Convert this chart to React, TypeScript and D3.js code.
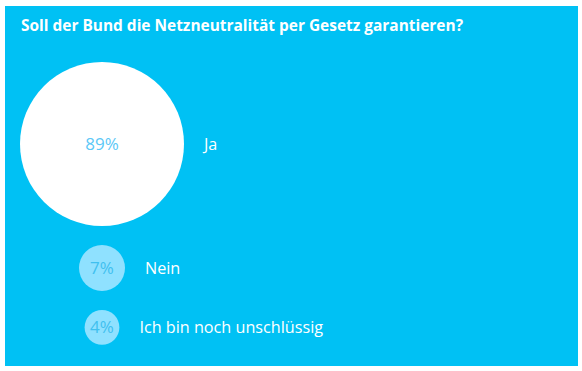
import React from "react";
import * as d3 from "d3";

const title = "Soll der Bund die Netzneutralität per Gesetz garantieren?";
const categories = ["Ja", "Nein", "Ich bin noch unschlüssig"];
const values = [89, 7, 4];
const valueLabels = ["89%", "7%", "4%"];

const W = 582;
const H = 371;
const BG = "#00c1f4";
const FONT = "'Open Sans', 'DejaVu Sans', sans-serif";

export default function App() {
  const r = d3.scaleSqrt().domain([0, 89]).range([0, 82]);
  const cx = 102;
  const top = 62;
  const gap = 19;
  const rows: { y: number; rad: number }[] = [];
  let cursor = top;
  values.forEach((v) => {
    const rad = r(v);
    const y = cursor + rad;
    rows.push({ y, rad });
    cursor = y + rad + gap;
  });

  return (
    <svg
      width={W}
      height={H}
      style={{ position: "absolute", left: 0, top: 0, display: "block" }}
    >
      <rect x={0} y={0} width={W} height={H} fill="#fff" />
      <rect x={5} y={6} width={573} height={360} fill={BG} />
      <text
        x={21}
        y={31}
        fill="#fff"
        fontFamily={FONT}
        fontWeight={700}
        fontSize={15.5}
        textLength={442}
        lengthAdjust="spacingAndGlyphs"
      >
        {title}
      </text>
      {values.map((v, i) => {
        const { y, rad } = rows[i];
        const big = i === 0;
        return (
          <g key={categories[i]}>
            <circle cx={cx} cy={y} r={rad} fill={big ? "#ffffff" : "#8fe1ff"} />
            <text
              x={cx}
              y={y}
              dy="0.36em"
              textAnchor="middle"
              fill={big ? "#5cc8f7" : "#3fc0ef"}
              fontFamily={FONT}
              fontSize={17}
            >
              {valueLabels[i]}
            </text>
            <text
              x={cx + rad + 20}
              y={y}
              dy="0.36em"
              fill="#fff"
              fontFamily={FONT}
              fontSize={16.2}
            >
              {categories[i]}
            </text>
          </g>
        );
      })}
    </svg>
  );
}
